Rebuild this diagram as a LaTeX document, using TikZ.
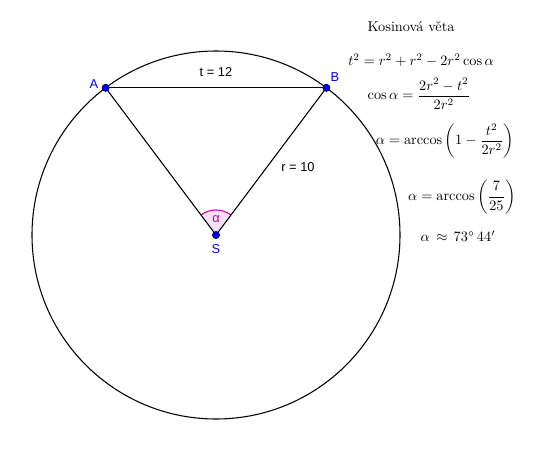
\documentclass[tikz,border=0pt]{standalone}
\usepackage{amsmath}
\usepackage{fontspec}
\newfontfamily\labelfont{Liberation Sans}
\usetikzlibrary{calc}
\definecolor{ptblue}{RGB}{0,0,255}
\definecolor{angmag}{RGB}{204,0,153}
\tikzset{
  bod/.style={circle, fill=ptblue, draw=black!70!blue, line width=0.5pt, inner sep=0pt, minimum size=5pt},
  bodlabel/.style={text=ptblue, font=\labelfont\small},
  delka/.style={font=\labelfont\small},
  vzorec/.style={font=\normalsize, inner sep=0.5pt}
}
\begin{document}
\begin{tikzpicture}[x=0.7pt,y=0.7pt,thick]
        \useasboundingbox (0,0) rectangle (550,452);
        % Points
        \coordinate (S) at (216,217);
        \coordinate (A) at ($(S)+(126.87:184)$);
        \coordinate (B) at ($(S)+(53.13:184)$);
        % Circle and angle
        \draw[line width=0.75pt] (S) circle (184);
        \fill[angmag!12] (S) -- ++(53.13:25) arc (53.13:126.87:25) -- cycle;
        \draw[angmag, line width=0.75pt] ($(S)+(53.13:25)$) arc (53.13:126.87:25);
        % Lines
        \draw[line width=0.75pt] (A) -- (B);
        \draw[line width=0.75pt] (S) -- (A);
        \draw[line width=0.75pt] (S) -- (B);
        % Nodes
        \node[bod] (nS) at (S) {};
        \node[bod] (nA) at (A) {};
        \node[bod] (nB) at (B) {};
        \node[bodlabel] (lA) at (94,368) {A};
        \node[bodlabel] (lB) at (335,375) {B};
        \node[bodlabel] (lS) at (216,203) {S};
        \node[text=angmag, font=\labelfont\small] (alfa) at (216,233) {α};
        \node[delka] (lt) at (216,380) {t = 12};
        \node[delka] (lr) at (298,285) {r = 10};
        % Formulas
        \node[vzorec] (nadpis) at (411,425) {Kosinová věta};
        \node[vzorec] (f1) at (421,392) {$t^2=r^2+r^2-2r^2\cos\alpha$};
        \node[vzorec] (f2) at (419,358) {$\cos\alpha=\dfrac{2r^2-t^2}{2r^2}$};
        \node[vzorec] (f3) at (445,311) {$\alpha=\arccos\left(1-\dfrac{t^2}{2r^2}\right)$};
        \node[vzorec] (f4) at (462,255) {$\alpha=\arccos\left(\dfrac{7}{25}\right)$};
        \node[vzorec] (f5) at (458,216) {$\alpha\,\approx\,73^\circ\,44'$};
\end{tikzpicture}
\end{document}
